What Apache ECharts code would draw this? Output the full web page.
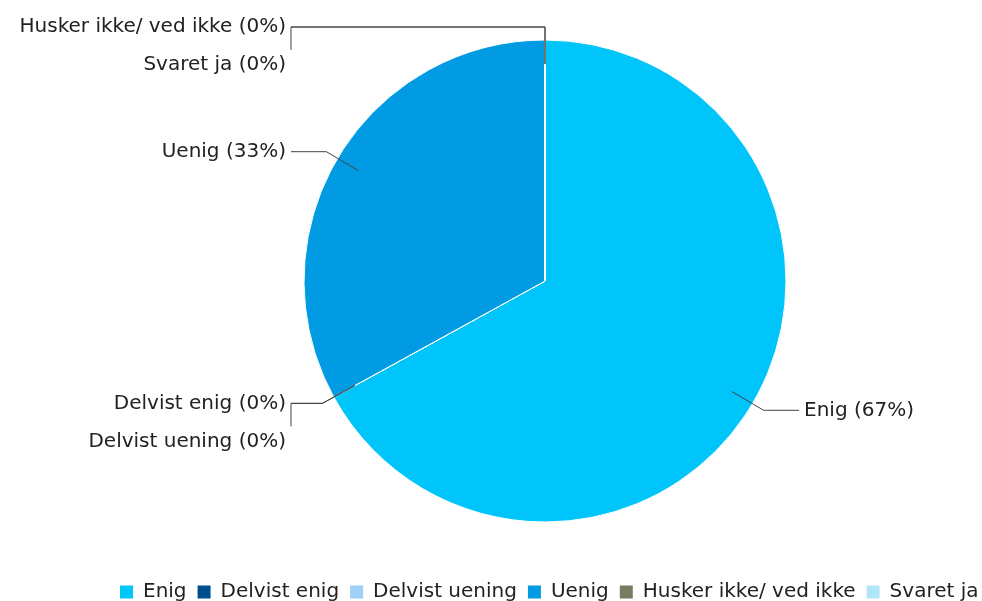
<!DOCTYPE html>
<html>
<head>
<meta charset="utf-8">
<script src="https://cdn.jsdelivr.net/npm/echarts@6/dist/echarts.min.js"></script>
<style>
  html, body { margin: 0; padding: 0; background: #ffffff; }
  #chart { width: 982px; height: 601px; }
</style>
</head>
<body>
<div id="chart"></div>
<script>
// Answer categories, in drawing order (clockwise from 12 o'clock)
const categories = ['Enig', 'Delvist enig', 'Delvist uening', 'Uenig', 'Husker ikke/ ved ikke', 'Svaret ja'];
// Share of answers per category, in percent
const shares = [67, 0, 0, 33, 0, 0];

// Slice palette
const palette = ['#00c5fb', '#004f8c', '#9dd2f6', '#009be3', '#7a7a5f', '#b0e5fa'];

const FONT = 'DejaVu Sans, Verdana, sans-serif';
const FONT_SIZE = 20;
const TEXT_COLOR = '#222222';
const LINE_COLOR = '#444444';
const PIE_CENTER = [545, 281];
const PIE_RADIUS = 241;

const chart = echarts.init(document.getElementById('chart'), null, { renderer: 'canvas' });

// Leader lines start inside the slice, bend just outside the rim,
// then run horizontally to the label. Zero-size slices that share an
// angle with the previous zero slice get their label stacked below.
function placeLabel(p) {
  const i = p.dataIndex;
  const data = chart.getModel().getSeriesByIndex(p.seriesIndex).getData();
  const lay = data.getItemLayout(i);
  const mid = (lay.startAngle + lay.endAngle) / 2;
  const c = Math.cos(mid), s = Math.sin(mid);
  const right = c > 1e-6;
  const sx = lay.cx + c * lay.r * 0.9;
  const sy = lay.cy + s * lay.r * 0.9;
  const ex = lay.cx + c * lay.r * 1.054;
  const ey = lay.cy + s * lay.r * 1.054;
  const hx = lay.cx + (right ? 1 : -1) * lay.r * 1.054;
  const stacked = shares[i] === 0 && i > 0 && shares[i - 1] === 0;
  const ly = ey + (stacked ? 38 : 0);
  const pts = [[sx, sy], [ex, ey], [hx, ey]];
  if (stacked) pts.push([hx, ly - 15]);
  return {
    x: hx + (right ? 5 : -5),
    y: ly,
    align: right ? 'left' : 'right',
    verticalAlign: 'middle',
    labelLinePoints: pts
  };
}

const pieData = categories.map((name, k) => ({ name: name, value: shares[k] }));

chart.setOption({
  animation: false,
  color: palette,
  legend: {
    data: categories,
    orient: 'horizontal',
    left: 120,
    top: 582,
    width: 900,
    padding: 0,
    icon: 'rect',
    itemWidth: 13,
    itemHeight: 13,
    itemGap: 11,
    selectedMode: false,
    itemStyle: { borderWidth: 0 },
    textStyle: {
      fontFamily: FONT,
      fontSize: FONT_SIZE,
      color: TEXT_COLOR,
      padding: [0, 0, 0, 5]
    }
  },
  series: [
    {
      // the slices
      type: 'pie',
      center: PIE_CENTER,
      radius: PIE_RADIUS,
      startAngle: 90,
      clockwise: true,
      silent: true,
      emphasis: { disabled: true },
      itemStyle: { borderColor: '#ffffff', borderWidth: 1 },
      label: { show: false },
      labelLine: { show: false },
      data: pieData
    },
    {
      // transparent copy on top, carrying labels and leader lines
      type: 'pie',
      z: 3,
      center: PIE_CENTER,
      radius: PIE_RADIUS,
      startAngle: 90,
      clockwise: true,
      percentPrecision: 0,
      avoidLabelOverlap: false,
      minShowLabelAngle: 0,
      silent: true,
      legendHoverLink: false,
      emphasis: { disabled: true },
      itemStyle: { color: 'rgba(0,0,0,0)', borderWidth: 0 },
      label: {
        show: true,
        position: 'outside',
        formatter: '{b} ({d}%)',
        fontFamily: FONT,
        fontSize: FONT_SIZE,
        color: TEXT_COLOR
      },
      labelLine: {
        show: true,
        smooth: false,
        length: 10,
        length2: 10,
        lineStyle: { color: LINE_COLOR, width: 1 }
      },
      labelLayout: placeLabel,
      data: pieData
    }
  ]
});
</script>
</body>
</html>
